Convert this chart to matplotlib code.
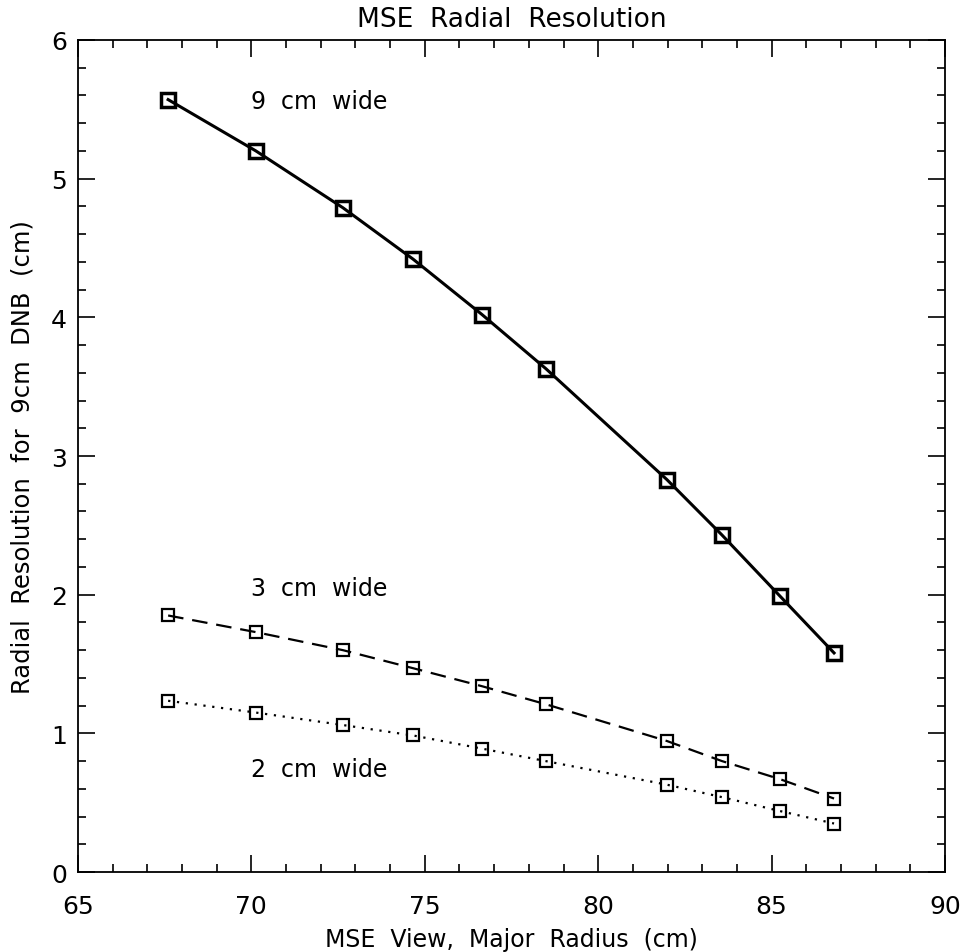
import matplotlib
matplotlib.use("Agg")
import matplotlib.pyplot as plt
from matplotlib.ticker import MultipleLocator

radius = [67.6, 70.13, 72.64, 74.66, 76.65, 78.49, 81.98, 83.57, 85.24, 86.8]
res_9cm = [5.57, 5.20, 4.79, 4.42, 4.02, 3.63, 2.83, 2.43, 1.99, 1.58]
res_3cm = [1.85, 1.73, 1.60, 1.47, 1.34, 1.21, 0.945, 0.80, 0.67, 0.53]
res_2cm = [1.235, 1.15, 1.06, 0.985, 0.89, 0.80, 0.63, 0.54, 0.44, 0.35]

labels = ["9  cm  wide", "3  cm  wide", "2  cm  wide"]
label_pos = [(70.0, 5.56), (70.0, 2.05), (70.0, 0.74)]

plt.rcParams['font.family'] = ['DejaVu Sans']
fig = plt.figure(figsize=(9.66, 9.53), dpi=100)
ax = fig.add_axes([0.0807, 0.0839, 0.8976, 0.8731])

ax.plot(radius, res_9cm, color='black', lw=2.2, marker='s', ms=10.5, mfc='none', mec='black', mew=2.5)
ax.plot(radius, res_3cm, color='black', lw=1.6, ls=(0, (7, 4)), marker='s', ms=9, mfc='none', mec='black', mew=1.6)
ax.plot(radius, res_2cm, color='black', lw=1.6, ls=(0, (1, 3)), marker='s', ms=9, mfc='none', mec='black', mew=1.6)

for t, (x, y) in zip(labels, label_pos):
    ax.text(x, y, t, fontsize=17, va='center', ha='left')

ax.set_xlim(65, 90)
ax.set_ylim(0, 6)
ax.xaxis.set_major_locator(MultipleLocator(5))
ax.xaxis.set_minor_locator(MultipleLocator(1))
ax.yaxis.set_major_locator(MultipleLocator(1))
ax.yaxis.set_minor_locator(MultipleLocator(0.2))
ax.tick_params(which='both', direction='in', top=True, right=True, labelsize=18, width=1.2)
ax.tick_params(which='major', length=12)
ax.tick_params(which='minor', length=6)
ax.tick_params(axis='x', pad=16)
ax.tick_params(axis='y', pad=8)
for s in ax.spines.values():
    s.set_linewidth(1.3)

ax.set_title("MSE  Radial  Resolution", fontsize=19, pad=10)
ax.set_xlabel("MSE  View,  Major  Radius  (cm)", fontsize=17, labelpad=6)
ax.set_ylabel("Radial  Resolution  for  9cm  DNB  (cm)", fontsize=17.5, labelpad=12)

fig.savefig("out.png", dpi=100)
